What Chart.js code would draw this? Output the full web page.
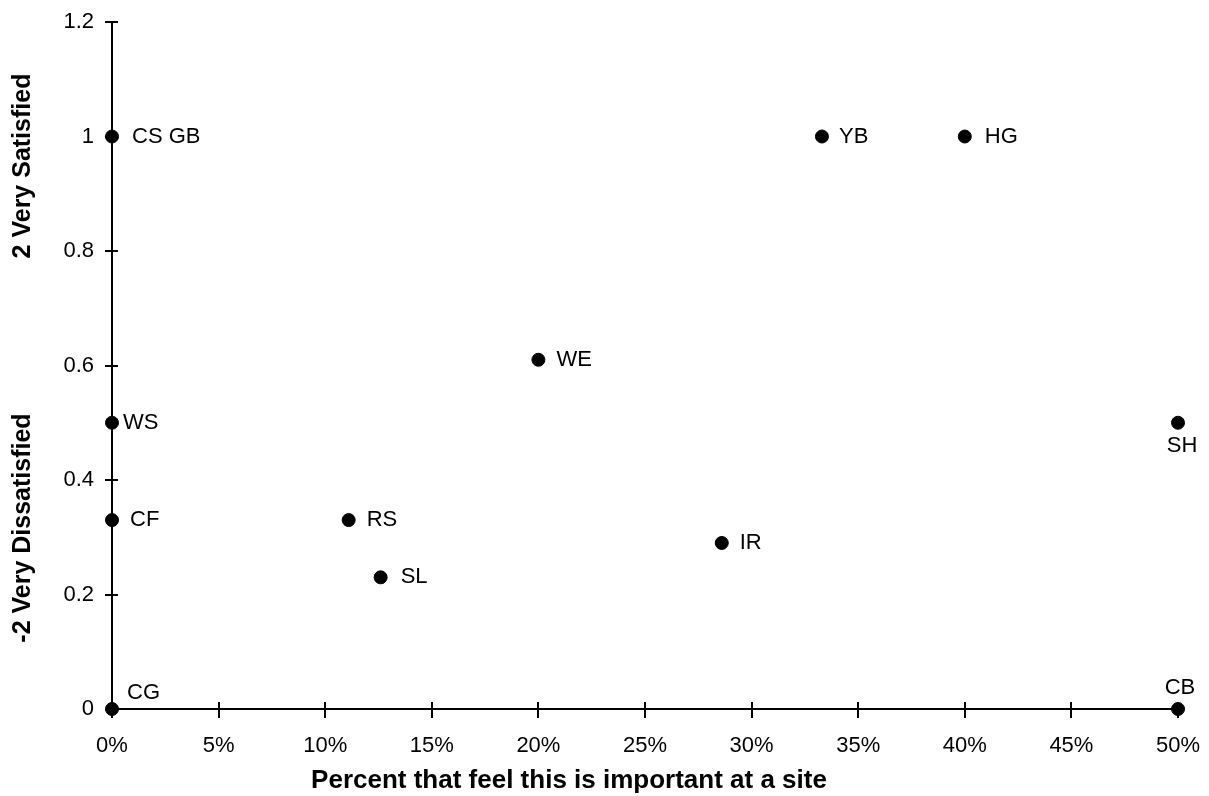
<!DOCTYPE html>
<html>
<head>
<meta charset="utf-8">
<script src="https://cdn.jsdelivr.net/npm/chart.js@4/dist/chart.umd.min.js"></script>
<style>
  html, body { margin: 0; padding: 0; background: #fff; }
  #wrap { width: 1209px; height: 796px; position: relative; }
</style>
</head>
<body>
<div id="wrap"><canvas id="grafico"></canvas></div>
<script>
// Dados
const siteCodes = ['CS GB', 'YB', 'HG', 'WE', 'WS', 'SH', 'CF', 'RS', 'IR', 'SL', 'CG', 'CB'];
const pctImportant = [0, 33.3, 40, 20, 0, 50, 0, 11.1, 28.6, 12.6, 0, 50];   // eixo X (%)
const satisfaction = [1, 1, 1, 0.61, 0.5, 0.5, 0.33, 0.33, 0.29, 0.23, 0, 0]; // eixo Y

const xTitle = 'Percent that feel this is important at a site';
const yTitleTop = '2 Very Satisfied';
const yTitleBottom = '-2 Very Dissatisfied';

// onde fica cada rótulo em relação ao ponto (só estilo)
const labelPlacement = [
  { dx: 20, dy: 0, align: 'left' },   // CS GB
  { dx: 17, dy: 0, align: 'left' },   // YB
  { dx: 20, dy: 0, align: 'left' },   // HG
  { dx: 18, dy: 0, align: 'left' },   // WE
  { dx: 11, dy: 0, align: 'left' },   // WS
  { dx: 4, dy: 23, align: 'center' }, // SH
  { dx: 18, dy: 0, align: 'left' },   // CF
  { dx: 18, dy: 0, align: 'left' },   // RS
  { dx: 18, dy: 0, align: 'left' },   // IR
  { dx: 20, dy: 0, align: 'left' },   // SL
  { dx: 15, dy: -16, align: 'left' }, // CG
  { dx: 2, dy: -21, align: 'center' } // CB
];

const FONTE = 'Arial, "Liberation Sans", sans-serif';

const pontos = pctImportant.map((x, i) => ({ x: x, y: satisfaction[i] }));

// plugin: marcas que cruzam o eixo, rótulos dos pontos e títulos
const extras = {
  id: 'extras',
  afterDatasetsDraw(chart) {
    const c = chart.ctx;
    const xs = chart.scales.x, ys = chart.scales.y;
    const area = chart.chartArea;
    c.save();
    c.strokeStyle = '#000';
    c.lineWidth = 2;
    // marcas do eixo Y
    ys.ticks.forEach(t => {
      const py = Math.round(ys.getPixelForValue(t.value));
      c.beginPath();
      c.moveTo(area.left - 7, py);
      c.lineTo(area.left + 6, py);
      c.stroke();
    });
    // marcas do eixo X
    xs.ticks.forEach(t => {
      const px = Math.round(xs.getPixelForValue(t.value));
      c.beginPath();
      c.moveTo(px, area.bottom - 7);
      c.lineTo(px, area.bottom + 9);
      c.stroke();
    });

    // rótulos dos pontos
    c.fillStyle = '#000';
    c.font = '22px ' + FONTE;
    c.textBaseline = 'middle';
    const meta = chart.getDatasetMeta(0);
    meta.data.forEach((el, i) => {
      const p = labelPlacement[i];
      c.textAlign = p.align;
      c.fillText(siteCodes[i], el.x + p.dx, el.y + p.dy);
    });

    // título do eixo X
    c.font = 'bold 26px ' + FONTE;
    c.textAlign = 'center';
    c.fillText(xTitle, 569, 781);

    // títulos do eixo Y (dois textos girados)
    c.font = 'bold 25px ' + FONTE;
    c.translate(23, 0);
    c.rotate(-Math.PI / 2);
    c.fillText(yTitleTop, -166, 0);
    c.fillText(yTitleBottom, -528, 0);
    c.restore();
  }
};

const ctx = document.getElementById('grafico').getContext('2d');
const grafico = new Chart(ctx, {
  type: 'scatter',
  data: {
    datasets: [{
      data: pontos,
      backgroundColor: '#000',
      borderColor: '#000',
      borderWidth: 1,
      pointRadius: 6.5,
      pointHoverRadius: 6.5,
      clip: false
    }]
  },
  options: {
    responsive: true,
    maintainAspectRatio: false,
    animation: false,
    layout: { padding: { top: 22, right: 31, left: 0, bottom: 0 } },
    plugins: {
      legend: { display: false },
      tooltip: { enabled: false }
    },
    scales: {
      x: {
        type: 'linear',
        min: 0,
        max: 50,
        afterFit(scale) {
          scale.height = 87;
          scale.paddingLeft = 0;
          scale.paddingRight = 0;
        },
        border: { display: true, color: '#000', width: 2 },
        grid: { display: true, drawOnChartArea: false, drawTicks: false, color: 'transparent' },
        ticks: {
          stepSize: 5,
          padding: 24,
          color: '#000',
          font: { family: FONTE, size: 22 },
          callback: v => v + '%'
        }
      },
      y: {
        type: 'linear',
        min: 0,
        max: 1.2,
        afterFit(scale) {
          scale.width = 112;
          scale.paddingTop = 0;
          scale.paddingBottom = 0;
        },
        border: { display: true, color: '#000', width: 2 },
        grid: { display: true, drawOnChartArea: false, drawTicks: false, color: 'transparent' },
        ticks: {
          stepSize: 0.2,
          padding: 18,
          color: '#000',
          font: { family: FONTE, size: 22 },
          callback: v => Math.round(v * 10) / 10
        }
      }
    }
  },
  plugins: [extras]
});
</script>
</body>
</html>
